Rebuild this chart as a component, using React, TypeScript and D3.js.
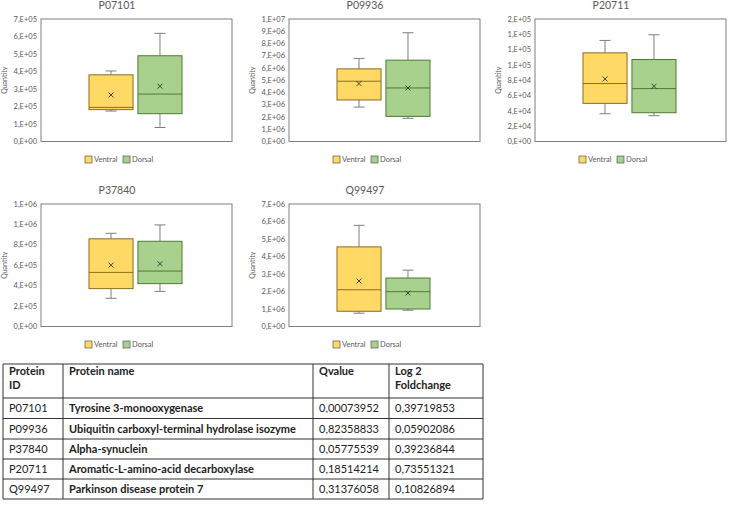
import * as d3 from "d3";

// chart data
const proteins = ["P07101", "P09936", "P20711", "P37840", "Q99497"];
const yMax = [7e5, 1e7, 1.6e5, 1.2e6, 7e6];
const yStep = [1e5, 1e6, 2e4, 2e5, 1e6];
const groups = ["Ventral", "Dorsal"];

// [min, q1, median, q3, max, mean]
const ventralStats = [
  [1.74e5, 1.82e5, 1.95e5, 3.81e5, 4.03e5, 2.66e5],
  [2.81e6, 3.39e6, 4.92e6, 5.93e6, 6.78e6, 4.73e6],
  [3.63e4, 4.98e4, 7.57e4, 1.158e5, 1.32e5, 8.17e4],
  [2.76e5, 3.71e5, 5.3e5, 8.59e5, 9.13e5, 6.01e5],
  [0.76e6, 0.87e6, 2.1e6, 4.55e6, 5.78e6, 2.6e6],
];
const dorsalStats = [
  [0.8e5, 1.59e5, 2.71e5, 4.9e5, 6.18e5, 3.16e5],
  [1.89e6, 2.05e6, 4.37e6, 6.64e6, 8.88e6, 4.37e6],
  [3.37e4, 3.76e4, 6.91e4, 1.071e5, 1.394e5, 7.21e4],
  [3.44e5, 4.2e5, 5.43e5, 8.35e5, 9.95e5, 6.15e5],
  [0.93e6, 1.0e6, 1.99e6, 2.77e6, 3.22e6, 1.91e6],
];

// table data
const tableHeader = [["Protein", "ID"], ["Protein name"], ["Qvalue"], ["Log 2", "Foldchange"]];
const tableIds = ["P07101", "P09936", "P37840", "P20711", "Q99497"];
const tableNames = [
  "Tyrosine 3-monooxygenase",
  "Ubiquitin carboxyl-terminal hydrolase isozyme",
  "Alpha-synuclein",
  "Aromatic-L-amino-acid decarboxylase",
  "Parkinson disease protein 7",
];
const tableQ = ["0,00073952", "0,82358833", "0,05775539", "0,18514214", "0,31376058"];
const tableFC = ["0,39719853", "0,05902086", "0,39236844", "0,73551321", "0,10826894"];

const fills = { Ventral: "#FFD966", Dorsal: "#A9D18E" };
const strokes = { Ventral: "#8C6D1F", Dorsal: "#4E7A32" };
const textGray = "#595959";
const font = "Lato, 'Open Sans', sans-serif";

// panel placement (plot area top-left)
const panelPos = [
  [41, 19], [289, 19], [535, 19], [41, 204], [289, 204],
];
const plotW = 191;
const plotH = 122.5;

function sci(v: number) {
  if (v === 0) return "0,E+00";
  let e = Math.floor(Math.log10(v));
  let m = Math.round(v / Math.pow(10, e));
  if (m === 10) { m = 1; e += 1; }
  return `${m},E+${String(e).padStart(2, "0")}`;
}

function BoxPanel({ i }: { i: number }) {
  const [left, top] = panelPos[i];
  const y = d3.scaleLinear().domain([0, yMax[i]]).range([top + plotH, top]);
  const x = d3.scaleBand().domain(groups).range([left + 48, left + 141]).paddingInner(0.1);
  const ticks = d3.range(0, yMax[i] + yStep[i] / 2, yStep[i]);
  const stats = { Ventral: ventralStats[i], Dorsal: dorsalStats[i] };
  const cx = left + 76;
  const bw = x.bandwidth();

  return (
    <g fontFamily={font}>
      <text x={cx} y={top - 10} textAnchor="middle" fontSize={10.5} fill={textGray}>{proteins[i]}</text>
      <text transform={`translate(${left - 34},${top + plotH / 2}) rotate(-90)`} textAnchor="middle" fontSize={7} fill={textGray}>Quantity</text>
      <rect x={left} y={top} width={plotW} height={plotH} fill="#fff" stroke="#7f7f7f" strokeWidth={1} />
      {ticks.map((t) => (
        <text key={t} x={left - 4} y={y(t)} dy="0.35em" textAnchor="end" fontSize={7.5} fill={textGray}>{sci(t)}</text>
      ))}
      {groups.map((g) => {
        const [mn, q1, md, q3, mx, mean] = stats[g];
        const x0 = x(g)!;
        const xc = x0 + bw / 2;
        return (
          <g key={g}>
            <line x1={xc} x2={xc} y1={y(mx)} y2={y(q3)} stroke="#7f7f7f" />
            <line x1={xc} x2={xc} y1={y(q1)} y2={y(mn)} stroke="#7f7f7f" />
            <line x1={xc - 5.5} x2={xc + 5.5} y1={y(mx)} y2={y(mx)} stroke="#7f7f7f" />
            <line x1={xc - 5.5} x2={xc + 5.5} y1={y(mn)} y2={y(mn)} stroke="#7f7f7f" />
            <rect x={x0} y={y(q3)} width={bw} height={y(q1) - y(q3)} fill={fills[g]} stroke={strokes[g]} strokeWidth={1} />
            <line x1={x0} x2={x0 + bw} y1={y(md)} y2={y(md)} stroke={strokes[g]} strokeWidth={1} />
            <path d={`M${xc - 2.5},${y(mean) - 2.5}L${xc + 2.5},${y(mean) + 2.5}M${xc - 2.5},${y(mean) + 2.5}L${xc + 2.5},${y(mean) - 2.5}`} stroke="#333" strokeWidth={0.9} />
          </g>
        );
      })}
      <g transform={`translate(${cx},${top + plotH + 18})`}>
        <rect x={-32} y={-3.5} width={7} height={7} fill={fills.Ventral} stroke="#555" strokeWidth={0.7} />
        <text x={-23} y={0} dy="0.35em" fontSize={7.5} fill={textGray}>Ventral</text>
        <rect x={6} y={-3.5} width={7} height={7} fill={fills.Dorsal} stroke="#555" strokeWidth={0.7} />
        <text x={15} y={0} dy="0.35em" fontSize={7.5} fill={textGray}>Dorsal</text>
      </g>
    </g>
  );
}

function ProteinTable() {
  const colX = [3, 63, 313, 389, 483];
  const rowY = [364, 398, 418.5, 439, 459, 479, 499];
  const pad = 6;
  const rows = tableIds.map((id, r) => [id, tableNames[r], tableQ[r], tableFC[r]]);
  return (
    <g fontFamily={font} fontSize={11} fill="#222">
      {tableHeader.map((lines, c) => (
        <text key={c} x={colX[c] + pad} y={rowY[0] + 11} fontWeight="bold">
          {lines.map((l, k) => (
            <tspan key={k} x={colX[c] + pad} dy={k === 0 ? 0 : 13.5}>{l}</tspan>
          ))}
        </text>
      ))}
      {rows.map((row, r) =>
        row.map((cell, c) => (
          <text key={`${r}-${c}`} x={colX[c] + pad} y={(rowY[r + 1] + rowY[r + 2]) / 2} dy="0.35em" fontWeight={c === 1 ? "bold" : "normal"}>{cell}</text>
        ))
      )}
      {rowY.map((yy, k) => (
        <line key={`h${k}`} x1={colX[0]} x2={colX[4]} y1={yy} y2={yy} stroke="#333" strokeWidth={1} />
      ))}
      {colX.map((xx, k) => (
        <line key={`v${k}`} x1={xx} x2={xx} y1={rowY[0]} y2={rowY[rowY.length - 1]} stroke="#333" strokeWidth={1} />
      ))}
    </g>
  );
}

export default function App() {
  return (
    <svg width={730} height={526} style={{ position: "absolute", left: 0, top: 0, background: "#fff" }}>
      {proteins.map((p, i) => <BoxPanel key={p} i={i} />)}
      <ProteinTable />
    </svg>
  );
}
